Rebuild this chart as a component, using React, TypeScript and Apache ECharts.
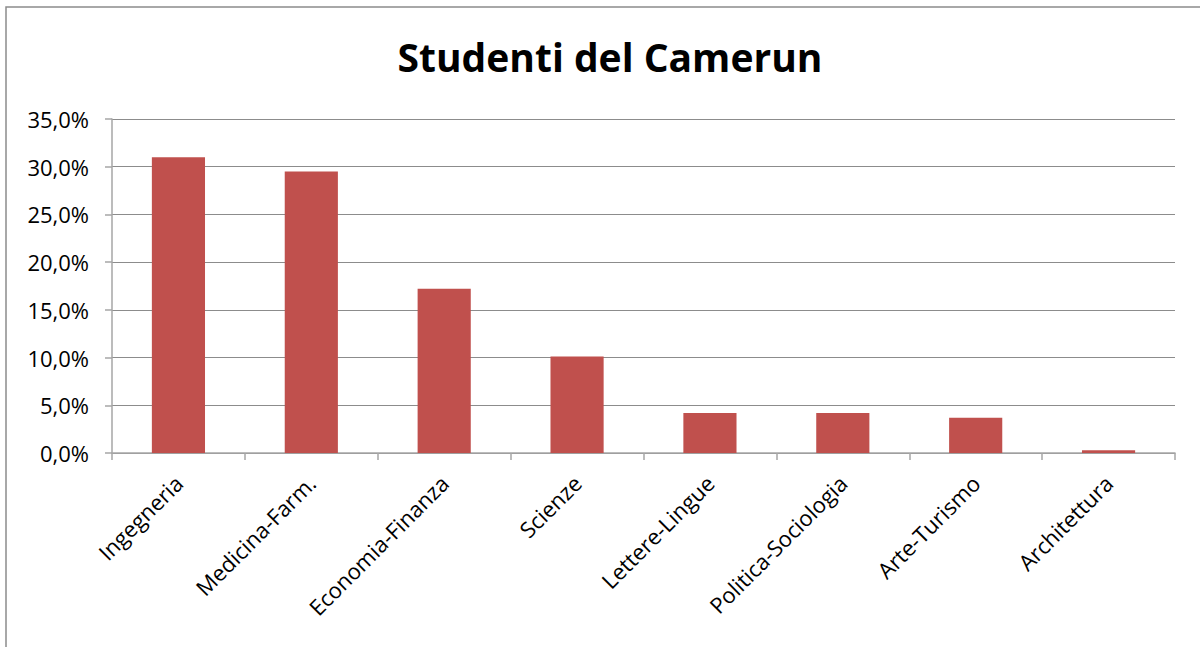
import React, { useEffect, useRef } from "react";
import * as echarts from "echarts";

const categories = [
  "Ingegneria",
  "Medicina-Farm.",
  "Economia-Finanza",
  "Scienze",
  "Lettere-Lingue",
  "Politica-Sociologia",
  "Arte-Turismo",
  "Architettura",
];
const values = [31.0, 29.5, 17.2, 10.1, 4.2, 4.2, 3.7, 0.3];
const titleText = "Studenti del Camerun";

export default function App() {
  const ref = useRef<HTMLDivElement>(null);
  useEffect(() => {
    if (!ref.current) return;
    const chart = echarts.init(ref.current, null, { renderer: "svg" });
    const font = "Open Sans";
    chart.setOption({
      animation: false,
      backgroundColor: "#ffffff",
      title: {
        text: titleText,
        left: 605,
        textAlign: "center",
        top: 32,
        textStyle: { fontFamily: font, fontWeight: "bold", fontSize: 39, color: "#000000" },
      },
      graphic: [
        {
          type: "rect",
          shape: { x: 6, y: 7, width: 1210, height: 660 },
          style: { fill: "none", stroke: "#8c8c8c", lineWidth: 1.5 },
          silent: true,
        },
      ],
      grid: { left: 112, right: 25, top: 119, bottom: 194 },
      xAxis: {
        type: "category",
        data: categories,
        boundaryGap: true,
        axisLine: { show: true, lineStyle: { color: "#a6a6a6", width: 1.5 } },
        axisTick: { show: true, alignWithLabel: false, length: 7, lineStyle: { color: "#a6a6a6", width: 1.5 } },
        axisLabel: {
          interval: 0,
          rotate: 45,
          margin: 26,
          fontFamily: font,
          fontSize: 22,
          color: "#000000",
        },
      },
      yAxis: {
        type: "value",
        min: 0,
        max: 35,
        interval: 5,
        axisLine: { show: true, lineStyle: { color: "#a6a6a6", width: 1.5 } },
        axisTick: { show: true, length: 7, lineStyle: { color: "#a6a6a6", width: 1.5 } },
        splitLine: { show: true, lineStyle: { color: "#8c8c8c", width: 1 } },
        axisLabel: {
          fontFamily: font,
          fontSize: 22,
          color: "#000000",
          margin: 23,
          formatter: (v: number) => v.toFixed(1).replace(".", ",") + "%",
        },
      },
      series: [
        {
          type: "bar",
          data: values,
          barWidth: "40%",
          itemStyle: { color: "#c0504d" },
        },
      ],
    });
    return () => chart.dispose();
  }, []);
  return (
    <div
      ref={ref}
      style={{ position: "fixed", left: 0, top: 0, width: 1200, height: 647 }}
    />
  );
}
